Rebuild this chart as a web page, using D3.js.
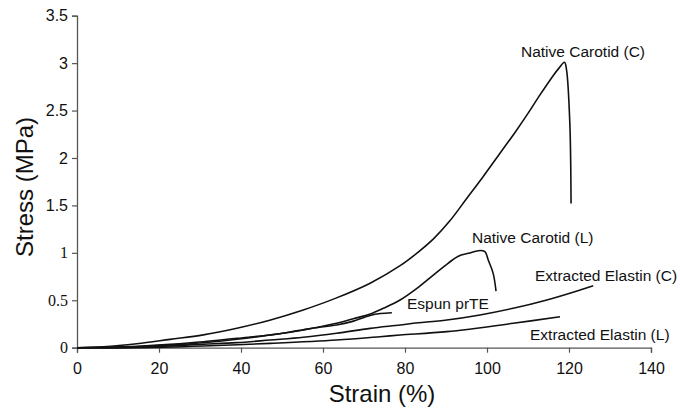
<!DOCTYPE html>
<html>
<head>
<meta charset="utf-8">
<script src="https://cdn.jsdelivr.net/npm/d3@7"></script>
<style>
  html, body { margin: 0; padding: 0; background: #fff; }
  svg { display: block; }
</style>
</head>
<body>
<svg id="chart" width="680" height="414"></svg>
<script>
// ---- data (strain %, stress MPa) ----
const nativeCarotidC = [
  [0,0],[6.4,0.01],[14.6,0.042],[22.7,0.088],[30.8,0.135],[39,0.205],[47,0.29],
  [55,0.395],[63,0.52],[71.5,0.68],[79,0.87],[83,1.0],[87,1.15],[91,1.34],
  [95,1.57],[99,1.8],[103,2.04],[107,2.28],[110,2.47],[113,2.67],[116,2.86],
  [117.6,2.95],[118.9,3.01],[119.4,2.93],[120.2,2.37],[120.5,1.52]
];
const nativeCarotidL = [
  [0,0],[14.6,0.01],[22.7,0.028],[30.8,0.053],[39,0.089],[47.1,0.134],[55.2,0.187],
  [63.3,0.257],[67.4,0.305],[71.5,0.355],[74.7,0.415],[78.8,0.503],[82.9,0.626],
  [86.9,0.766],[90.5,0.89],[93,0.965],[95.5,0.995],[98.3,1.025],[99.5,1.012],
  [100.3,0.924],[101.5,0.784],[102.2,0.597]
];
const espunPrTE = [
  [0,0],[14.6,0.015],[22.7,0.036],[30.8,0.063],[39,0.099],[47.1,0.134],[52,0.165],
  [55.2,0.19],[58,0.21],[63.3,0.24],[67,0.275],[71.5,0.34],[74,0.36],[76.8,0.369]
];
const extractedElastinC = [
  [0,0],[14.6,0.005],[30.8,0.036],[39,0.053],[47.1,0.081],[55.2,0.11],[63.3,0.152],
  [71.5,0.204],[78.8,0.239],[82,0.257],[90.2,0.292],[98.3,0.345],[106.4,0.415],
  [114.6,0.503],[122.7,0.608],[125.9,0.653]
];
const extractedElastinL = [
  [0,0],[14.6,0.0],[30.8,0.018],[47.1,0.046],[63.3,0.081],[73.9,0.116],[78.8,0.134],
  [90.2,0.169],[106.4,0.257],[117.8,0.327]
];
const seriesNames = ["Native Carotid (C)","Native Carotid (L)","Espun prTE","Extracted Elastin (C)","Extracted Elastin (L)"];
const xTicks = [0,20,40,60,80,100,120,140];
const yTicks = [0,0.5,1,1.5,2,2.5,3,3.5];

// ---- layout ----
const svg = d3.select("#chart");
const x = d3.scaleLinear().domain([0,140]).range([77,651]);
const y = d3.scaleLinear().domain([0,3.5]).range([347.7,15.7]);
const axisColor = "#555";

// axes
const gx = svg.append("g").attr("transform",`translate(0,${y(0)})`)
  .call(d3.axisBottom(x).tickValues(xTicks).tickSize(5).tickPadding(10).tickFormat(d3.format("d")));
gx.selectAll("text").attr("font-family","Liberation Sans, Arial, sans-serif").attr("font-size","16px").attr("fill","#111");

const gy = svg.append("g").attr("transform",`translate(${x(0)},0)`)
  .call(d3.axisLeft(y).tickValues(yTicks).tickSize(5).tickPadding(4).tickFormat(d => String(d)));
gy.selectAll("text")
  .attr("font-size","16px").attr("fill","#111")
  .attr("font-family", d => d >= 1.5 ? "Liberation Sans, Arial, sans-serif" : "Liberation Serif, Times New Roman, serif");

[gx, gy].forEach(g => {
  g.select(".domain").attr("stroke",axisColor).attr("stroke-width",1.3);
  g.selectAll(".tick line").attr("stroke",axisColor).attr("stroke-width",1.2);
});

// curves
const line = d3.line().x(d => x(d[0])).y(d => y(d[1])).curve(d3.curveCatmullRom.alpha(0.5));
const allSeries = [extractedElastinL, extractedElastinC, espunPrTE, nativeCarotidL, nativeCarotidC];
svg.append("g").selectAll("path").data(allSeries).join("path")
  .attr("d", line).attr("fill","none").attr("stroke","#111").attr("stroke-width",1.6)
  .attr("stroke-linejoin","round");

// annotations
const labels = [
  {t: seriesNames[0], x: 521, y: 57},
  {t: seriesNames[1], x: 472, y: 243},
  {t: seriesNames[2], x: 407, y: 309},
  {t: seriesNames[3], x: 535, y: 281},
  {t: seriesNames[4], x: 530, y: 340}
];
svg.append("g").selectAll("text").data(labels).join("text")
  .attr("x", d => d.x).attr("y", d => d.y).text(d => d.t)
  .attr("font-family","Liberation Sans, Arial, sans-serif").attr("font-size","15.5px").attr("fill","#111");

// axis titles
svg.append("text").attr("x",382).attr("y",402).attr("text-anchor","middle")
  .attr("font-family","Liberation Sans, Arial, sans-serif").attr("font-size","24px").attr("fill","#111")
  .text("Strain (%)");
svg.append("text").attr("transform","translate(33,187) rotate(-90)").attr("text-anchor","middle")
  .attr("font-family","Liberation Sans, Arial, sans-serif").attr("font-size","24px").attr("fill","#111")
  .text("Stress (MPa)");
</script>
</body>
</html>
